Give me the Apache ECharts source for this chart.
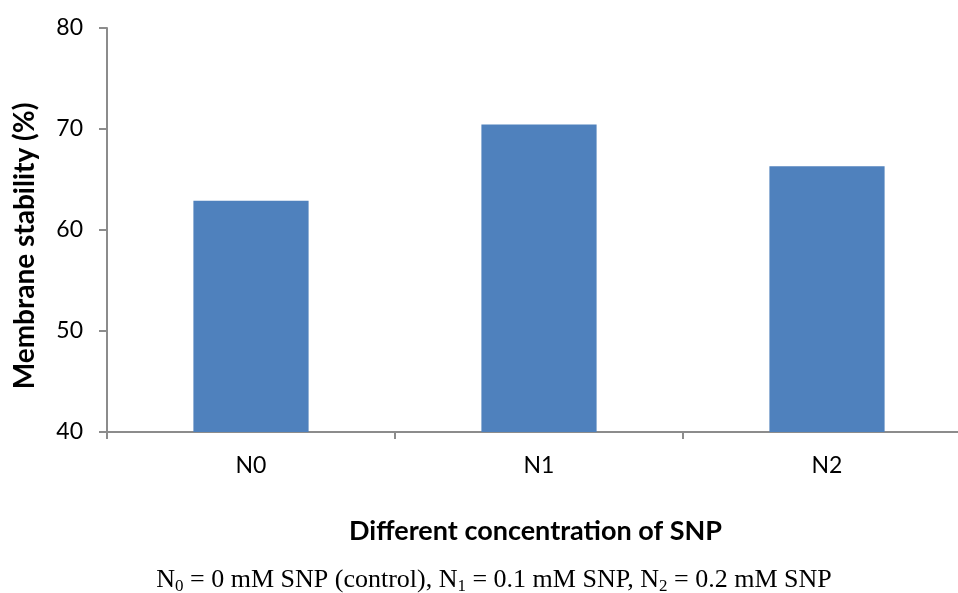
<!DOCTYPE html>
<html>
<head>
<meta charset="utf-8">
<script src="https://cdn.jsdelivr.net/npm/echarts@6/dist/echarts.min.js"></script>
<style>
html,body{margin:0;padding:0;background:#fff;}
#chart{width:958px;height:593px;}
</style>
</head>
<body>
<div id="chart"></div>
<script>
var categories = ['N0', 'N1', 'N2'];
var stability = [62.9, 70.45, 66.3];
var yTicks = [40, 50, 60, 70, 80];
var yTitle = 'Membrane stability (%)';
var xTitle = 'Different concentration of SNP';

var chart = echarts.init(document.getElementById('chart'), null, {renderer: 'canvas'});
var axisGray = '#8c8c8c';
var font = 'Lato, "Open Sans", sans-serif';
var serif = '"Liberation Serif", "Times New Roman", serif';

chart.setOption({
  animation: false,
  backgroundColor: '#ffffff',
  grid: {left: 107, top: 28, width: 864, height: 404, containLabel: false, outerBoundsMode: 'none'},
  xAxis: {
    type: 'category',
    data: categories,
    axisLine: {lineStyle: {color: axisGray, width: 2}},
    axisTick: {show: true, length: 7, lineStyle: {color: axisGray, width: 2}},
    axisLabel: {color: '#000', fontFamily: font, fontSize: 23, margin: 22},
    name: xTitle,
    nameLocation: 'middle',
    nameGap: 86,
    nameTextStyle: {color: '#000', fontFamily: font, fontSize: 27, fontWeight: 'bold', padding: [0, 0, 0, -7]}
  },
  yAxis: {
    type: 'value',
    min: yTicks[0],
    max: yTicks[yTicks.length - 1],
    interval: 10,
    splitLine: {show: false},
    axisLine: {show: true, lineStyle: {color: axisGray, width: 2}},
    axisTick: {show: true, length: 8, lineStyle: {color: axisGray, width: 2}},
    axisLabel: {color: '#000', fontFamily: font, fontSize: 23, margin: 24}
  },
  series: [{
    type: 'bar',
    data: stability,
    barWidth: '40%',
    itemStyle: {color: '#4f81bd'}
  }],
  graphic: [
    {
      type: 'text',
      x: 25, y: 246,
      rotation: Math.PI / 2,
      style: {
        text: yTitle,
        fill: '#000',
        fontFamily: font,
        fontWeight: 'bold',
        fontSize: 28,
        align: 'center',
        verticalAlign: 'middle'
      }
    },
    {
      type: 'text',
      x: 494, y: 580,
      style: {
        text: 'N{sub|0} = 0 mM SNP (control), N{sub|1} = 0.1 mM SNP, N{sub|2} = 0.2 mM SNP',
        fill: '#000',
        fontFamily: serif,
        fontSize: 26,
        lineHeight: 30,
        align: 'center',
        verticalAlign: 'middle',
        rich: {
          sub: {
            fontFamily: serif,
            fontSize: 17,
            lineHeight: 30,
            verticalAlign: 'bottom',
            fill: '#000'
          }
        }
      }
    }
  ]
});
</script>
</body>
</html>
